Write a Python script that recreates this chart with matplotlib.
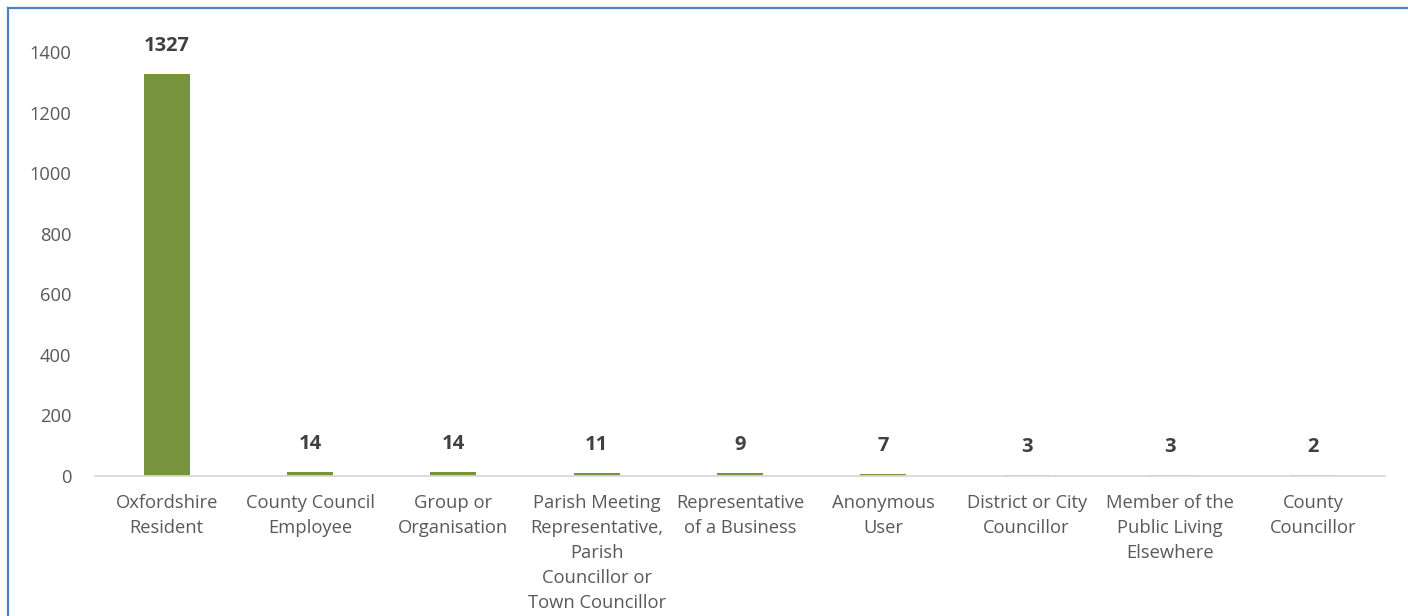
import matplotlib
matplotlib.use("Agg")
import matplotlib.pyplot as plt
from matplotlib.lines import Line2D

plt.rcParams['font.family'] = ['Open Sans', 'DejaVu Sans']

categories = [
    "Oxfordshire\nResident",
    "County Council\nEmployee",
    "Group or\nOrganisation",
    "Parish Meeting\nRepresentative,\nParish\nCouncillor or\nTown Councillor",
    "Representative\nof a Business",
    "Anonymous\nUser",
    "District or City\nCouncillor",
    "Member of the\nPublic Living\nElsewhere",
    "County\nCouncillor",
]
counts = [1327, 14, 14, 11, 9, 7, 3, 3, 2]
yticks = [0, 200, 400, 600, 800, 1000, 1200, 1400]

W, H = 1408, 616
fig = plt.figure(figsize=(W / 100, H / 100), dpi=100)
ax = fig.add_axes([95 / W, 1 - 476 / H, (1385 - 95) / W, (476 - 52) / H])

x = range(len(categories))
bars = ax.bar(x, counts, width=0.32, color="#77933C", zorder=2)

for xi, v in zip(x, counts):
    ax.annotate(str(v), (xi, v), xytext=(0, 13), textcoords="offset points",
                ha="center", va="bottom", fontsize=14.5, fontweight="bold",
                color="#404040")

ax.set_xlim(-0.5, len(categories) - 0.5)
ax.set_ylim(0, 1400)
ax.set_yticks(yticks)
ax.set_xticks(list(x))
ax.set_xticklabels(categories, linespacing=1.5)
ax.tick_params(axis="both", length=0, labelsize=13.2, colors="#595959")
ax.tick_params(axis="x", pad=13)
ax.tick_params(axis="y", pad=17)

for s in ["top", "right", "left"]:
    ax.spines[s].set_visible(False)
ax.spines["bottom"].set_color("#D9D9D9")
ax.spines["bottom"].set_linewidth(1.3)

# chart border (left and top edges visible)
fig.add_artist(Line2D([8 / W, 8 / W], [0, 1 - 8 / H], color="#4F81BD", lw=1.6,
                      transform=fig.transFigure))
fig.add_artist(Line2D([8 / W, 1], [1 - 8 / H, 1 - 8 / H], color="#4F81BD", lw=1.6,
                      transform=fig.transFigure))

fig.savefig("out.png", dpi=100)
